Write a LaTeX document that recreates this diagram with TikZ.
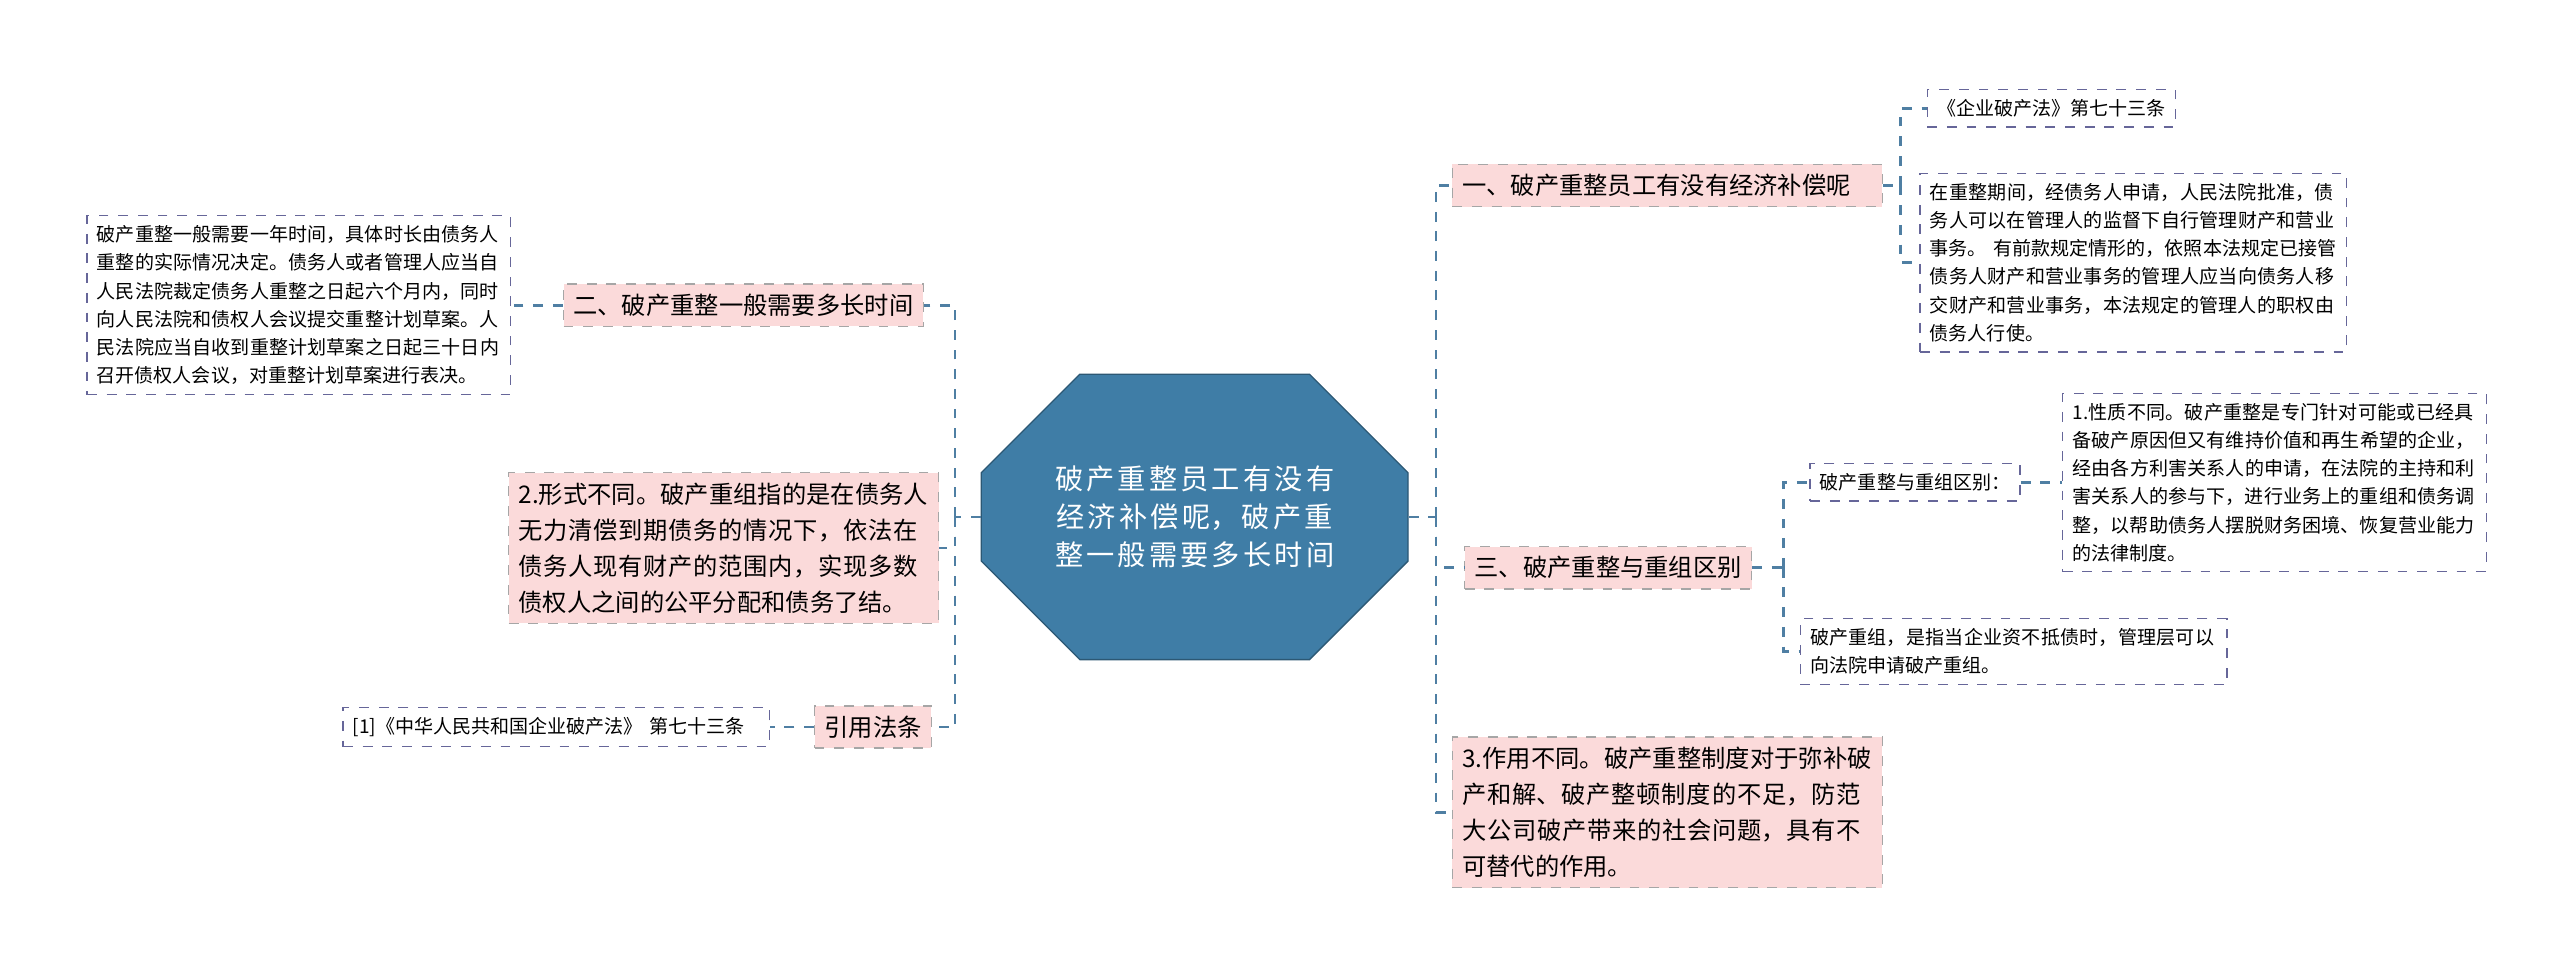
\documentclass[tikz,border=0pt]{standalone}
\usepackage{fontspec}
\setmainfont{Noto Sans CJK SC}
\XeTeXlinebreaklocale "zh"
\XeTeXlinebreakskip=0pt plus 1pt
\usetikzlibrary{positioning,shapes.misc}
\definecolor{hub}{HTML}{3F7DA6}
\definecolor{pinkbox}{HTML}{FBDADA}
\definecolor{wire}{HTML}{4F7FA3}
\begin{document}
\begin{tikzpicture}[x=0.5pt,y=-0.5pt,
  centre/.style={chamfered rectangle, chamfered rectangle xsep=4pt, chamfered rectangle ysep=26pt, fill=hub, draw=hub!70!black, text=white,
    font=\fontsize{8.6pt}{11.5pt}\selectfont, align=center, text width=118pt, minimum height=53pt, inner sep=2pt},
  topic/.style={draw=gray!70, dashed, fill=pinkbox, font=\fontsize{7.4pt}{11pt}\selectfont, align=left, inner sep=3pt},
  leaf/.style={draw=gray!80!blue, dashed, fill=white, font=\fontsize{5.8pt}{8.6pt}\selectfont, align=left, inner sep=3pt},
  link/.style={draw=wire, dashed, thick}]
\useasboundingbox (0,0) rectangle (1560,595);
% centre
\node[centre] (hub) at (728,315) {破产重整员工有没有经济补偿呢，破产重整一般需要多长时间};
% right side
\node[topic, text width=125pt] (r1) at (1016,113) {一、破产重整员工有没有经济补偿呢};
\node[leaf] (r1a) at (1250,66) {《企业破产法》第七十三条};
\node[leaf, text width=124pt] (r1b) at (1300,160) {在重整期间，经债务人申请，人民法院批准，债务人可以在管理人的监督下自行管理财产和营业事务。 有前款规定情形的，依照本法规定已接管债务人财产和营业事务的管理人应当向债务人移交财产和营业事务，本法规定的管理人的职权由债务人行使。};
\node[topic] (r3) at (980,346) {三、破产重整与重组区别};
\node[leaf] (r3a) at (1167,294) {破产重整与重组区别：};
\node[leaf, text width=123pt] (r3aa) at (1386,294) {1.性质不同。破产重整是专门针对可能或已经具备破产原因但又有维持价值和再生希望的企业，经由各方利害关系人的申请，在法院的主持和利害关系人的参与下，进行业务上的重组和债务调整，以帮助债务人摆脱财务困境、恢复营业能力的法律制度。};
\node[leaf, text width=124pt] (r3b) at (1227,397) {破产重组，是指当企业资不抵债时，管理层可以向法院申请破产重组。};
\node[topic, text width=125pt] (r4) at (1016,495) {3.作用不同。破产重整制度对于弥补破产和解、破产整顿制度的不足，防范大公司破产带来的社会问题，具有不可替代的作用。};
% left side
\node[topic] (l1) at (453,186) {二、破产重整一般需要多长时间};
\node[leaf, text width=123pt] (l1a) at (182,186) {破产重整一般需要一年时间，具体时长由债务人重整的实际情况决定。债务人或者管理人应当自人民法院裁定债务人重整之日起六个月内，同时向人民法院和债权人会议提交重整计划草案。人民法院应当自收到重整计划草案之日起三十日内召开债权人会议，对重整计划草案进行表决。};
\node[topic, text width=125pt] (l2) at (441,334) {2.形式不同。破产重组指的是在债务人无力清偿到期债务的情况下，依法在债务人现有财产的范围内，实现多数债权人之间的公平分配和债务了结。};
\node[topic] (l3) at (532,443) {引用法条};
\node[leaf, text width=124pt] (l3a) at (339,443) {[1]《中华人民共和国企业破产法》 第七十三条};
% connectors
\coordinate (rt) at (875,315);
\coordinate (lt) at (582,315);
\draw[link] (hub.east) -- (rt);
\draw[link] (rt) |- (r1.west);
\draw[link] (rt) |- (r3.west);
\draw[link] (rt) |- (r4.west);
\draw[link] (hub.west) -- (lt);
\draw[link] (lt) |- (l1.east);
\draw[link] (lt) |- (l2.east);
\draw[link] (lt) |- (l3.east);
\coordinate (r1t) at (1158,113);
\draw[link] (r1.east) -- (r1t);
\draw[link] (r1t) |- (r1a.west);
\draw[link] (r1t) |- (r1b.west);
\coordinate (r3t) at (1087,346);
\draw[link] (r3.east) -- (r3t);
\draw[link] (r3t) |- (r3a.west);
\draw[link] (r3t) |- (r3b.west);
\draw[link] (r3a.east) -- (r3aa.west);
\draw[link] (l1.west) -- (l1a.east);
\draw[link] (l3.west) -- (l3a.east);
\end{tikzpicture}
\end{document}
